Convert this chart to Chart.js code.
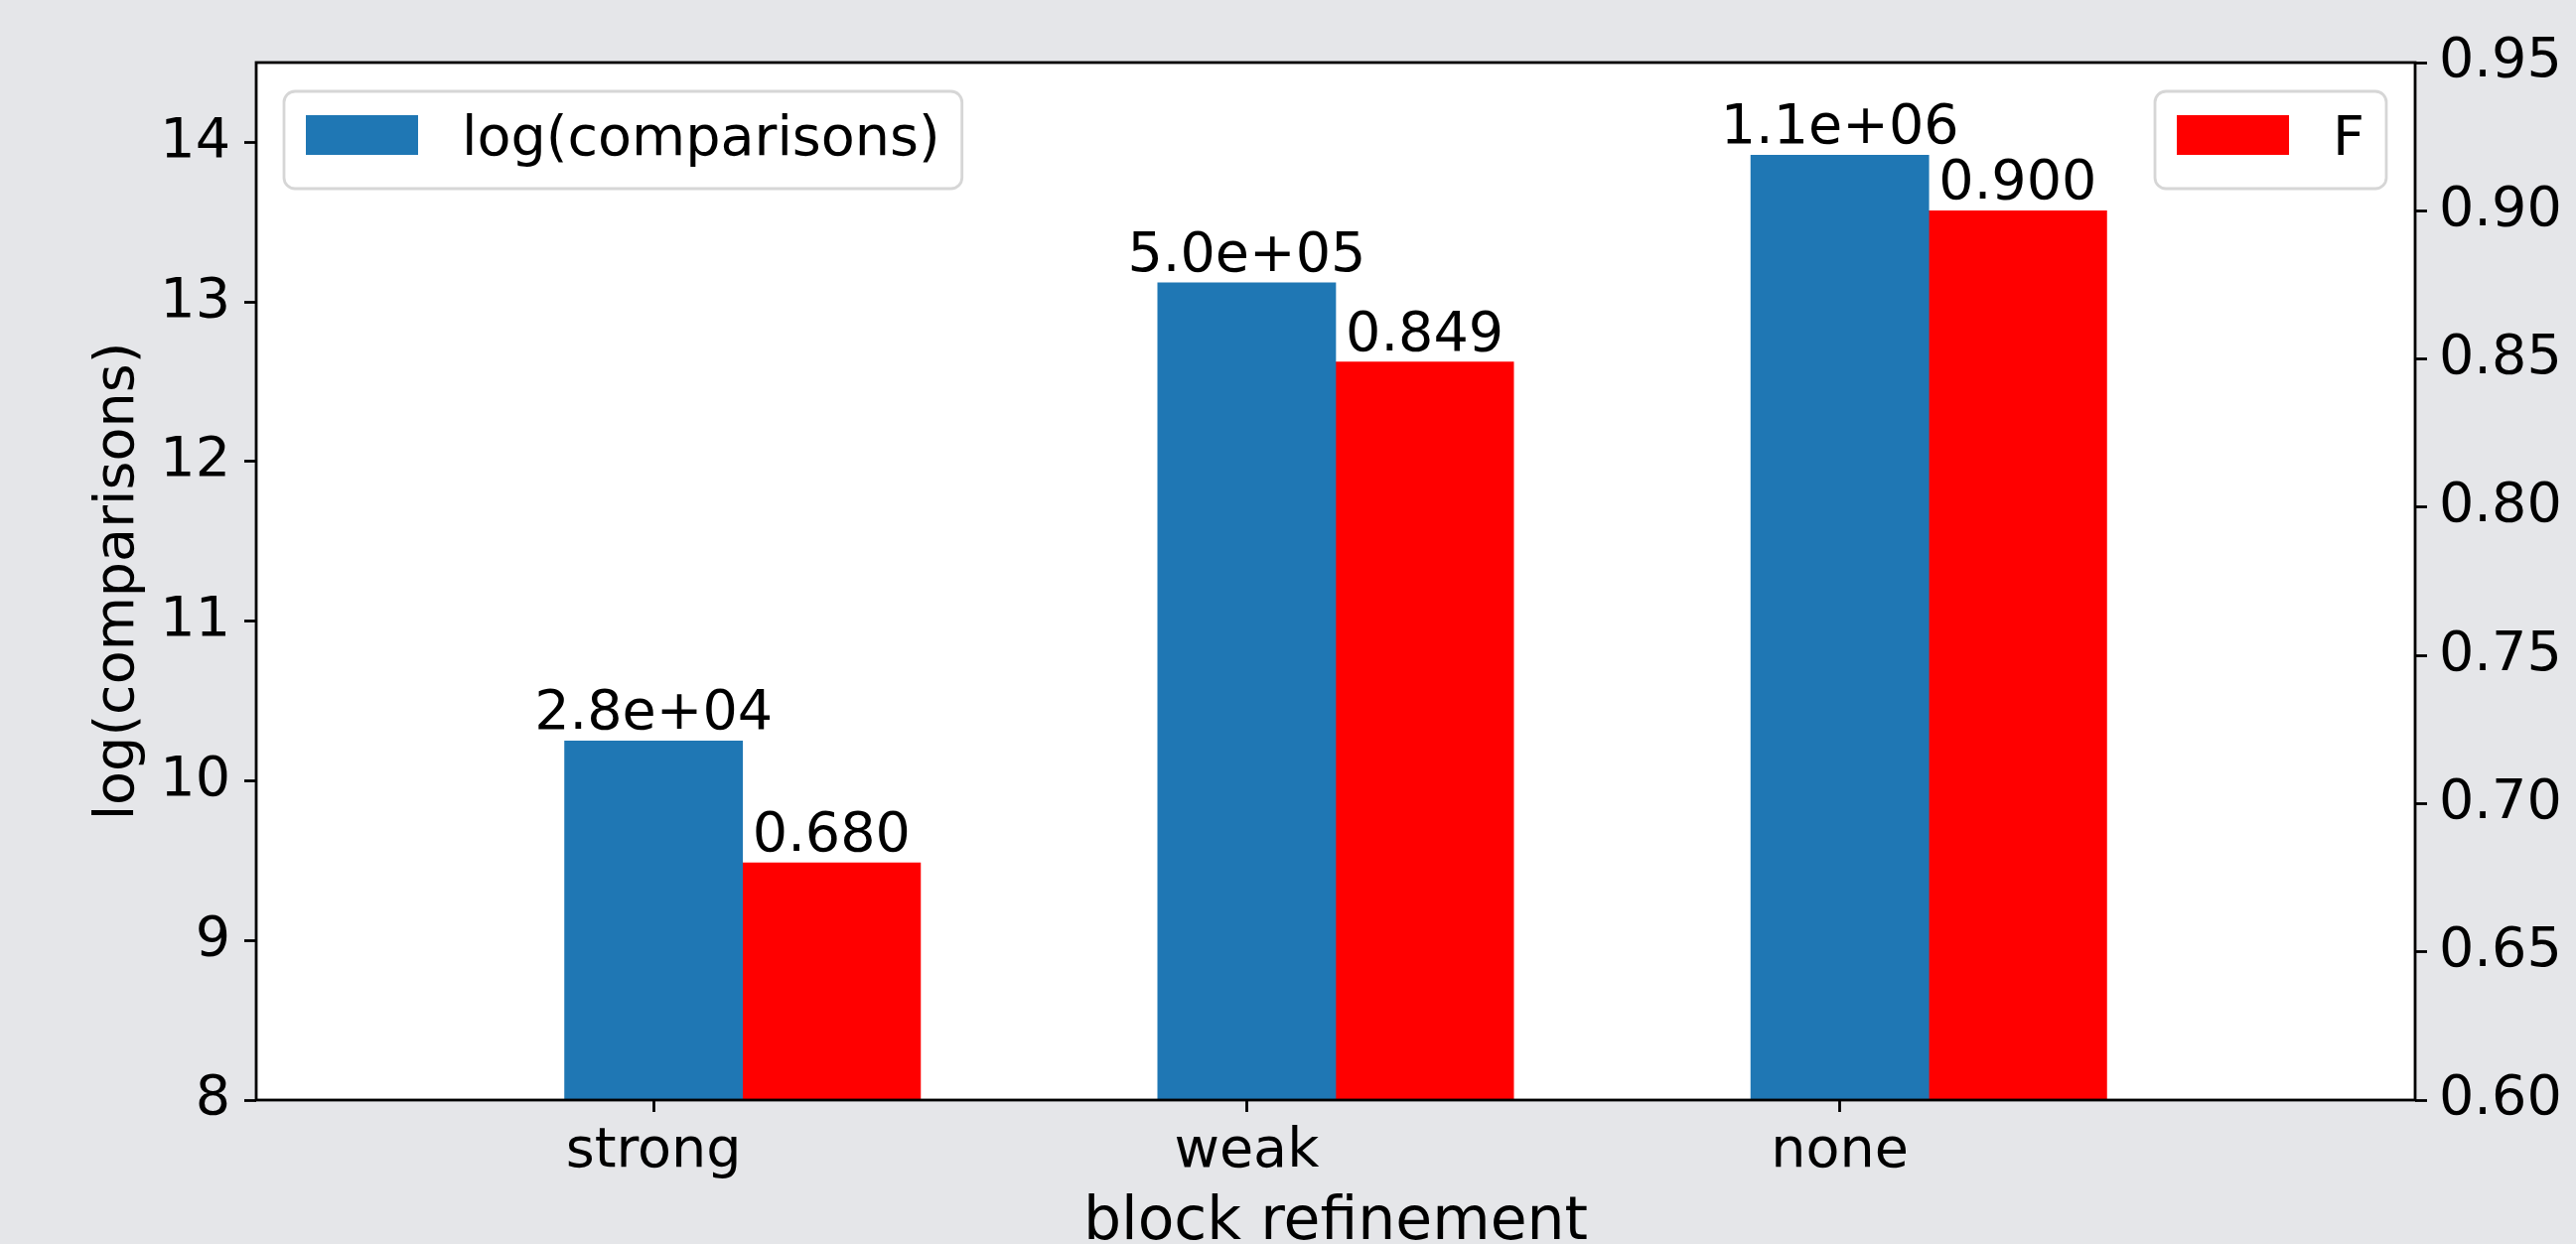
<!DOCTYPE html>
<html>
<head>
<meta charset="utf-8">
<title>block refinement</title>
<script src="https://cdn.jsdelivr.net/npm/chart.js@4.4.1/dist/chart.umd.min.js"></script>
<style>
  html, body { margin: 0; padding: 0; background: #e5e6e9; }
  canvas { display: block; }
</style>
</head>
<body>
<canvas id="chart" width="2594" height="1253"></canvas>
<script>
// values
const categories = ['strong', 'weak', 'none'];
const logComparisons = [10.25, 13.12, 13.92];
const comparisons = [2.8e4, 5.0e5, 1.1e6];
const fScores = [0.680, 0.849, 0.900];
const leftTicks = [8, 9, 10, 11, 12, 13, 14];
const rightTicks = [0.60, 0.65, 0.70, 0.75, 0.80, 0.85, 0.90, 0.95];

const FONT = 'DejaVu Sans';
const FS = 55.6;
const BLUE = '#1f77b4';
const RED = '#ff0000';
const barOffset = 0.3;   // red bar sits one bar width right of the blue one

Chart.defaults.color = '#000';
Chart.defaults.font.family = FONT;
Chart.defaults.font.size = FS;

// matplotlib-ish "2.8e+04"
function sci(v) {
    var s = v.toExponential(1);
    return s.replace(/e([+-])(\d)$/, 'e$10$2');
}

const bgPlugin = {
    id: 'bg',
    beforeDraw(chart) {
        const ctx = chart.ctx, a = chart.chartArea;
        ctx.save();
        ctx.fillStyle = '#e5e6e9';
        ctx.fillRect(0, 0, chart.width, chart.height);
        ctx.fillStyle = '#ffffff';
        ctx.fillRect(a.left, a.top, a.right - a.left, a.bottom - a.top);
        ctx.restore();
    }
};

const labelPlugin = {
    id: 'barLabels',
    afterDatasetsDraw(chart) {
        const ctx = chart.ctx, a = chart.chartArea;
        ctx.save();
        ctx.font = FS + 'px "' + FONT + '"';
        ctx.fillStyle = '#000';
        ctx.textAlign = 'center';
        ctx.textBaseline = 'alphabetic';
        chart.data.datasets.forEach(function(ds, di) {
            chart.getDatasetMeta(di).data.forEach(function(bar, i) {
                var txt = di === 0 ? sci(comparisons[i]) : fScores[i].toFixed(3);
                ctx.fillText(txt, bar.x, bar.y - 12);
            });
        });

        // frame (spines)
        ctx.strokeStyle = '#000';
        ctx.lineWidth = 2.8;
        ctx.strokeRect(a.left, a.top, a.right - a.left, a.bottom - a.top);

        // axis titles
        ctx.textAlign = 'center';
        ctx.font = '60px "' + FONT + '"';
        ctx.fillText('block refinement', (a.left + a.right) / 2, a.bottom + 140);
        ctx.font = FS + 'px "' + FONT + '"';
        ctx.translate(a.left - 124, (a.top + a.bottom) / 2);
        ctx.rotate(-Math.PI / 2);
        ctx.fillText('log(comparisons)', 0, 0);
        ctx.restore();
    }
};

function drawLegendBox(ctx, x, y, label, color) {
    // x,y = top-left of the box
    var pad = 22, handle = 113, gap = 44, h = 98, r = 11;
    var tw = ctx.measureText(label).width;
    var w = pad + handle + gap + tw + pad;
    ctx.beginPath();
    ctx.roundRect(x, y, w, h, r);
    ctx.fillStyle = 'rgba(255,255,255,0.8)';
    ctx.fill();
    ctx.lineWidth = 2.8;
    ctx.strokeStyle = '#d6d6d6';
    ctx.stroke();
    ctx.fillStyle = color;
    ctx.fillRect(x + pad, y + 24, handle, 40);
    ctx.fillStyle = '#000';
    ctx.fillText(label, x + pad + handle + gap, y + 64);
    return w;
}

const legendPlugin = {
    id: 'twoLegends',
    afterDraw(chart) {
        const ctx = chart.ctx, a = chart.chartArea;
        ctx.save();
        ctx.font = FS + 'px "' + FONT + '"';
        ctx.textAlign = 'left';
        ctx.textBaseline = 'alphabetic';
        var ds = chart.data.datasets;
        drawLegendBox(ctx, a.left + 28, a.top + 29, ds[0].label, ds[0].backgroundColor);
        var w2 = 22 + 113 + 44 + ctx.measureText(ds[1].label).width + 22;
        drawLegendBox(ctx, a.right - 29 - w2, a.top + 29, ds[1].label, ds[1].backgroundColor);
        ctx.restore();
    }
};

const tickGrid = {
    display: true,
    drawOnChartArea: false,
    drawTicks: true,
    tickLength: 12,
    tickWidth: 2.8,
    tickColor: '#000',
    offset: false
};

const ctx = document.getElementById('chart').getContext('2d');
const chart = new Chart(ctx, {
    type: 'bar',
    data: {
        datasets: [{
            label: 'log(comparisons)',
            data: logComparisons.map(function(v, i) { return { x: i, y: v }; }),
            backgroundColor: BLUE,
            borderWidth: 0,
            xAxisID: 'x',
            yAxisID: 'y'
        }, {
            label: 'F',
            data: fScores.map(function(v, i) { return { x: i + barOffset, y: v }; }),
            backgroundColor: RED,
            borderWidth: 0,
            xAxisID: 'x',
            yAxisID: 'y1'
        }]
    },
    options: {
        responsive: false,
        animation: false,
        devicePixelRatio: 1,
        grouped: false,
        barPercentage: 1,
        categoryPercentage: 1,
        layout: { padding: { top: 63, left: 0, right: 0, bottom: 0 } },
        plugins: {
            legend: { display: false },
            tooltip: { enabled: false }
        },
        scales: {
            x: {
                type: 'linear',
                position: 'bottom',
                min: -0.67,
                max: 2.97,
                offset: false,
                grid: tickGrid,
                border: { display: false },
                afterBuildTicks: function(scale) {
                    scale.ticks = categories.map(function(c, i) { return { value: i }; });
                },
                afterFit: function(scale) { scale.height = 145; },
                ticks: {
                    padding: 7,
                    maxRotation: 0,
                    autoSkip: false,
                    callback: function(value, index) { return categories[index]; }
                }
            },
            y: {
                type: 'linear',
                position: 'left',
                min: 8,
                max: 14.5,
                grid: tickGrid,
                border: { display: false },
                afterBuildTicks: function(scale) {
                    scale.ticks = leftTicks.map(function(v) { return { value: v }; });
                },
                afterFit: function(scale) { scale.width = 258; },
                ticks: {
                    padding: 14,
                    callback: function(value) { return String(value); }
                }
            },
            y1: {
                type: 'linear',
                position: 'right',
                min: 0.6,
                max: 0.95,
                grid: tickGrid,
                border: { display: false },
                afterBuildTicks: function(scale) {
                    scale.ticks = rightTicks.map(function(v) { return { value: v }; });
                },
                afterFit: function(scale) { scale.width = 162; },
                ticks: {
                    padding: 12,
                    callback: function(value) { return Number(value).toFixed(2); }
                }
            }
        }
    },
    plugins: [bgPlugin, labelPlugin, legendPlugin]
});
</script>
</body>
</html>
